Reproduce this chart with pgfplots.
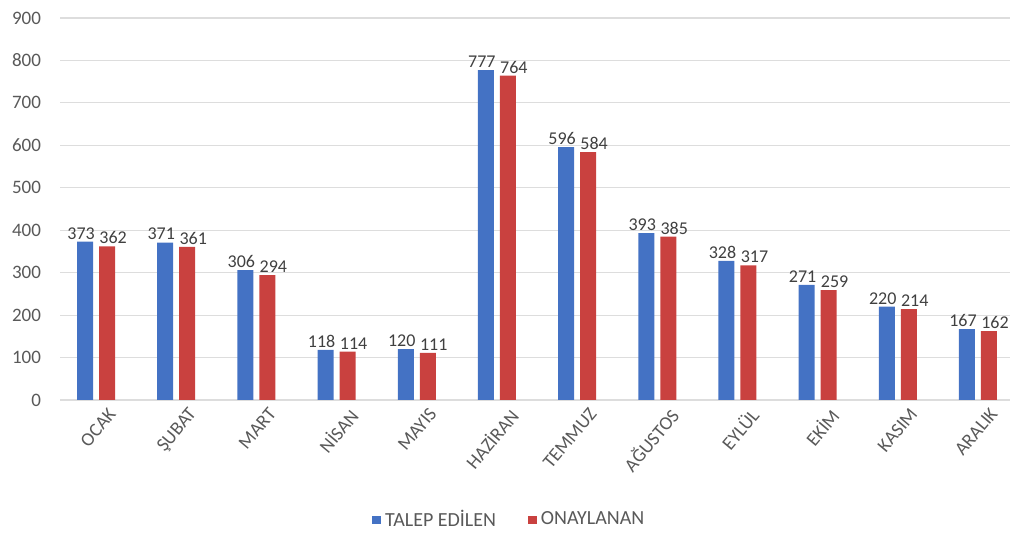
\documentclass[border=0pt]{standalone}
\usepackage{fontspec}
\setmainfont{Carlito}
\usepackage{pgfplots}
\pgfplotsset{compat=1.18}
\definecolor{talep}{HTML}{4472C4}
\definecolor{onay}{HTML}{C9413F}
\definecolor{gridc}{HTML}{DDDDDD}
\definecolor{txt}{HTML}{595959}
\begin{document}
\begin{tikzpicture}
\begin{axis}[
    scale only axis,
    width=475pt, height=191pt,
    ybar=3pt, bar width=8pt,
    /pgf/number format/assume math mode=true,
    ymin=0, ymax=900, ytick={0,100,...,900},
    xmin=-0.45, xmax=11.4,
    xtick={0,...,11},
    xticklabels={OCAK,ŞUBAT,MART,NİSAN,MAYIS,HAZİRAN,TEMMUZ,AĞUSTOS,EYLÜL,EKİM,KASIM,ARALIK},
    x tick label style={rotate=50, anchor=north east, inner sep=0.5pt, yshift=-3pt, xshift=5pt},
    ymajorgrids, grid style={gridc, line width=0.6pt},
    axis x line*=bottom, axis y line*=left,
    x axis line style={gridc, line width=0.6pt},
    y axis line style={draw=none},
    ytick style={draw=none}, xtick style={draw=none},
    yticklabel style={xshift=-6pt},
    tick label style={font=\fontsize{9.5}{10}\selectfont, text=txt},
    nodes near coords,
    every node near coord/.append style={font=\fontsize{9}{10}\selectfont, text=black!75, inner sep=1pt},
    legend style={at={(0.474,0)}, anchor=center, yshift=-60pt, draw=none,
        font=\fontsize{10}{11}\selectfont, text=txt, legend columns=2,
        /tikz/every even column/.append style={column sep=14pt}},
    legend image code/.code={\fill[#1] (0pt,-2.2pt) rectangle (4.4pt,2.2pt);},
  ]
\addplot[fill=talep, draw=none, every node near coord/.append style={xshift=-2pt}] coordinates {
 (0,373) (1,371) (2,306) (3,118) (4,120) (5,777)
 (6,596) (7,393) (8,328) (9,271) (10,220) (11,167)};
\addplot[fill=onay, draw=none, every node near coord/.append style={xshift=3pt}] coordinates {
 (0,362) (1,361) (2,294) (3,114) (4,111) (5,764)
 (6,584) (7,385) (8,317) (9,259) (10,214) (11,162)};
\legend{TALEP EDİLEN, ONAYLANAN}
\end{axis}
\pgfresetboundingbox
\path ([shift={(-30pt,-71.5pt)}]current axis.south west) rectangle ([shift={(5.5pt,9pt)}]current axis.north east);
\end{tikzpicture}
\end{document}
